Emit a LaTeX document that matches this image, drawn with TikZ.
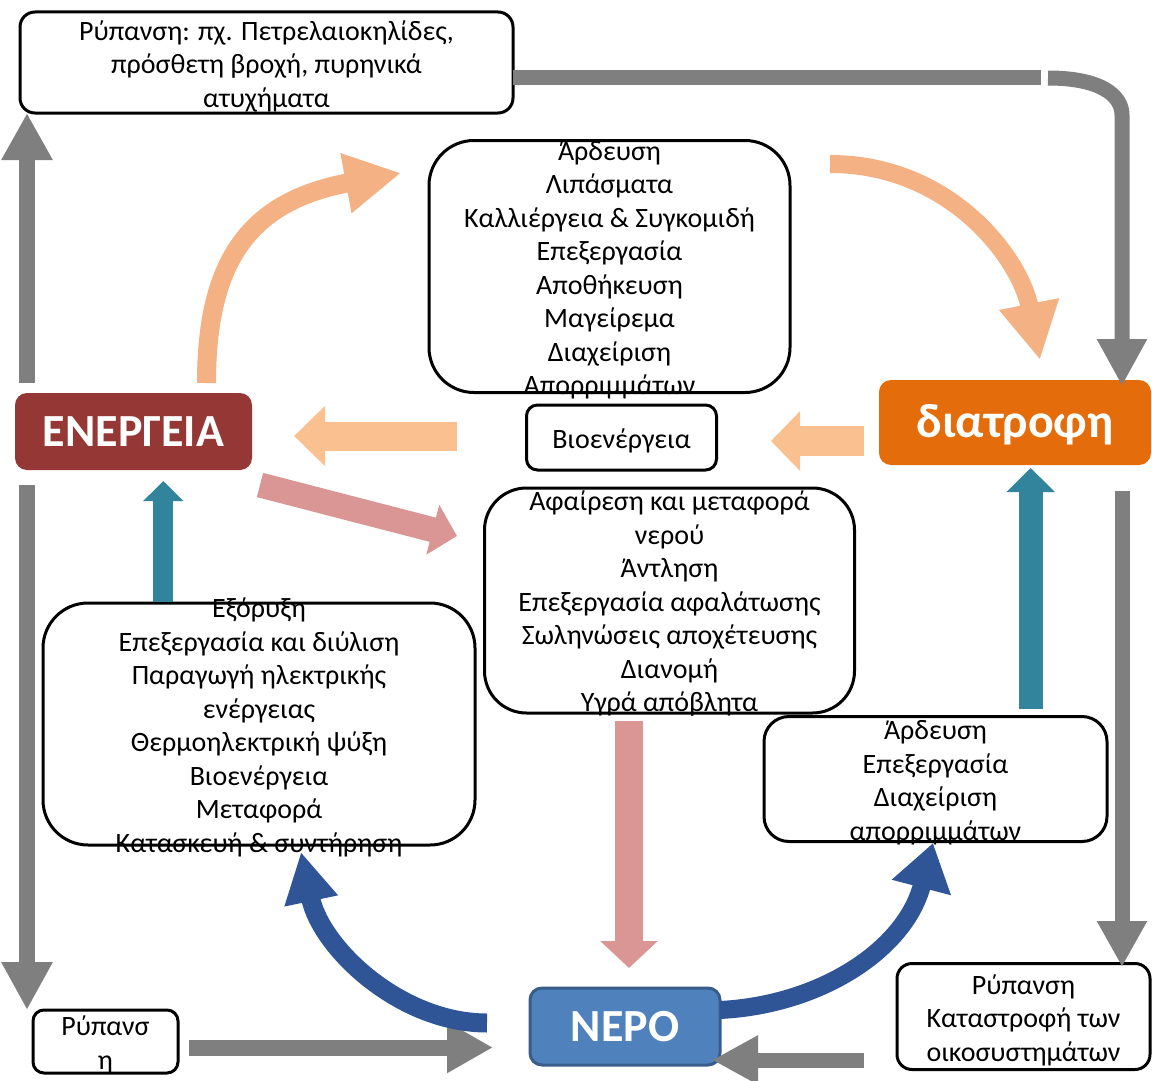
\documentclass[tikz,border=0pt]{standalone}
\usepackage{fontspec}
\setmainfont{Carlito}
\usetikzlibrary{arrows.meta,calc}
\definecolor{grayA}{HTML}{7F7F7F}
\definecolor{energyred}{HTML}{953735}
\definecolor{foodorange}{HTML}{E46C0A}
\definecolor{waterfill}{HTML}{4F81BD}
\definecolor{waterline}{HTML}{385D8A}
\definecolor{peachA}{HTML}{F4B183}
\definecolor{peachB}{HTML}{FAC090}
\definecolor{pinkA}{HTML}{D99694}
\definecolor{tealA}{HTML}{31849B}
\definecolor{blueA}{HTML}{2F5597}
\tikzset{
  box/.style={draw=black, line width=3pt, fill=white, rounded corners=#1, inner sep=0pt},
  box/.default=15pt,
  keybox/.style={draw=none, rounded corners=12pt, inner sep=0pt},
  txt/.style={align=center, inner sep=0pt, yshift=-3.5pt, font=\fontsize{28}{33.5}\selectfont},
  keytxt/.style={inner sep=0pt, text=white, font=\bfseries\fontsize{#1}{#1}\selectfont},
  fat/.style 2 args={-{Triangle[length=#1,width=#2]}},
}
\begin{document}
\begin{tikzpicture}[x=1pt,y=-1pt]
\useasboundingbox (0,0) rectangle (1152,1081);
\fill[white] (0,0) rectangle (1152,1081);

% ---------- boxes ----------
\node[box=15pt, minimum width=493pt, minimum height=101pt] (topbox) at (266.5,62.5) {};
\node[box=45pt, minimum width=361pt, minimum height=252pt] (foodproc) at (609.5,266.5) {};
\node[box=11pt, minimum width=190pt, minimum height=65pt] (bio) at (621.5,437.5) {};
\node[keybox, fill=energyred, minimum width=237pt, minimum height=77pt] (energy) at (133.5,431.5) {};
\node[keybox, fill=foodorange, minimum width=272pt, minimum height=85pt] (food) at (1015,422.5) {};
\node[box=42pt, minimum width=370pt, minimum height=225pt] (waterproc) at (669.5,600.5) {};
\node[box=45pt, minimum width=432pt, minimum height=242pt] (energyproc) at (259,724) {};
\node[box=25pt, minimum width=343pt, minimum height=125pt] (fwproc) at (935.5,779) {};
\node[keybox, fill=waterfill, draw=waterline, line width=3pt, minimum width=190pt, minimum height=77pt] (water) at (625,1026.5) {};
\node[box=11pt, minimum width=145pt, minimum height=63pt] (poll1) at (105.5,1041.5) {};
\node[box=15pt, minimum width=253pt, minimum height=106pt] (poll2) at (1023.5,1016.5) {};

% ---------- connector end points ----------
\coordinate (gla) at (27,383);   \coordinate (glb) at (27,113);
\coordinate (glc) at (27,485);   \coordinate (gld) at (27,1010);
\coordinate (gta) at (513,78);   \coordinate (gtb) at (1041,78);
\coordinate (gtc) at (1048,78);  \coordinate (gtd) at (1122,115);
\coordinate (gte) at (1122,386);
\coordinate (gra) at (1122,491); \coordinate (grb) at (1122,967);
\coordinate (gba) at (189,1047.5); \coordinate (gbb) at (493,1047.5);
\coordinate (gbc) at (864,1060);   \coordinate (gbd) at (712,1060);
\coordinate (oca) at (206.5,383); \coordinate (ocb) at (401,173);
\coordinate (occ) at (830,164);   \coordinate (ocd) at (1040,360);
\coordinate (osa) at (457,436);   \coordinate (osb) at (294,436);
\coordinate (osc) at (864,441);   \coordinate (osd) at (771,441);
\coordinate (pda) at (260,485);   \coordinate (pdb) at (457,536);
\coordinate (pva) at (629,721);   \coordinate (pvb) at (629,968);
\coordinate (tla) at (163.3,602); \coordinate (tlb) at (163.3,481);
\coordinate (tra) at (1030.7,709); \coordinate (trb) at (1030.7,468);
\coordinate (bla) at (487,1023);  \coordinate (blb) at (301,852);
\coordinate (bra) at (720,1010);  \coordinate (brb) at (933,843);

% ---------- gray arrows ----------
\draw[grayA, line width=16pt, fat={47pt}{48pt}] (gla) -- (glb);
\draw[grayA, line width=16pt, fat={48pt}{48pt}] (glc) -- (gld);
\draw[grayA, line width=15pt] (gta) -- (gtb);
\draw[grayA, line width=15pt, fat={47pt}{47pt}] (gtc) .. controls (1100,78) and (1122,95) .. (gtd) -- (gte);
\draw[grayA, line width=15pt, fat={46pt}{47pt}] (gra) -- (grb);
\draw[grayA, line width=16pt, fat={46pt}{48pt}] (gba) -- (gbb);
\draw[grayA, line width=15pt, fat={46pt}{46pt}] (gbc) -- (gbd);

% ---------- peach arrows ----------
\draw[peachA, line width=19pt, fat={56pt}{57pt}] (oca) .. controls (206.5,260) and (250,201) .. (ocb);
\draw[peachA, line width=18pt, fat={57pt}{57pt}] (occ) .. controls (950,164) and (1020,258) .. (ocd);
\draw[peachB, line width=29pt, fat={31pt}{58pt}] (osa) -- (osb);
\draw[peachB, line width=30pt, fat={29pt}{58pt}] (osc) -- (osd);

% ---------- pink arrows ----------
\draw[pinkA, line width=25pt, fat={25pt}{50pt}] (pda) -- (pdb);
\draw[pinkA, line width=28pt, fat={27pt}{56pt}] (pva) -- (pvb);

% ---------- teal arrows ----------
\draw[tealA, line width=20pt, fat={20pt}{39pt}] (tla) -- (tlb);
\draw[tealA, line width=24pt, fat={24pt}{47pt}] (tra) -- (trb);

% ---------- blue arrows ----------
\draw[blueA, line width=19pt, fat={50pt}{51pt}] (bla) .. controls (400,1023) and (321,948) .. (blb);
\draw[blueA, line width=18pt, fat={46pt}{58pt}] (bra) .. controls (820,1005) and (905,950) .. (brb);

% ---------- texts ----------
\node[txt] (toptxt) at (topbox) {Ρύπανση: πχ. Πετρελαιοκηλίδες,\\πρόσθετη βροχή, πυρηνικά\\ατυχήματα};
\node[txt] (foodproctxt) at (foodproc) {Άρδευση\\Λιπάσματα\\Καλλιέργεια \& Συγκομιδή\\Επεξεργασία\\Αποθήκευση\\Μαγείρεμα\\Διαχείριση\\Απορριμμάτων};
\node[txt] (biotxt) at (bio) {Βιοενέργεια};
\node[keytxt=46] (energytxt) at (energy) {ΕΝΕΡΓΕΙΑ};
\node[keytxt=48] (foodtxt) at ($(food)+(0,2)$) {διατροφη};
\node[txt] (waterproctxt) at (waterproc) {Αφαίρεση και μεταφορά\\νερού\\Άντληση\\Επεξεργασία αφαλάτωσης\\Σωληνώσεις αποχέτευσης\\Διανομή\\Υγρά απόβλητα};
\node[txt] (energyproctxt) at (energyproc) {Εξόρυξη\\Επεξεργασία και διύλιση\\Παραγωγή ηλεκτρικής\\ενέργειας\\Θερμοηλεκτρική ψύξη\\Βιοενέργεια\\Μεταφορά\\Κατασκευή \& συντήρηση};
\node[txt] (fwproctxt) at (fwproc) {Άρδευση\\Επεξεργασία\\Διαχείριση\\απορριμμάτων};
\node[keytxt=46] (watertxt) at (water) {ΝΕΡΟ};
\node[txt] (poll1txt) at (poll1) {Ρύπανσ\\η};
\node[txt] (poll2txt) at (poll2) {Ρύπανση\\Καταστροφή των\\οικοσυστημάτων};
\end{tikzpicture}
\end{document}
